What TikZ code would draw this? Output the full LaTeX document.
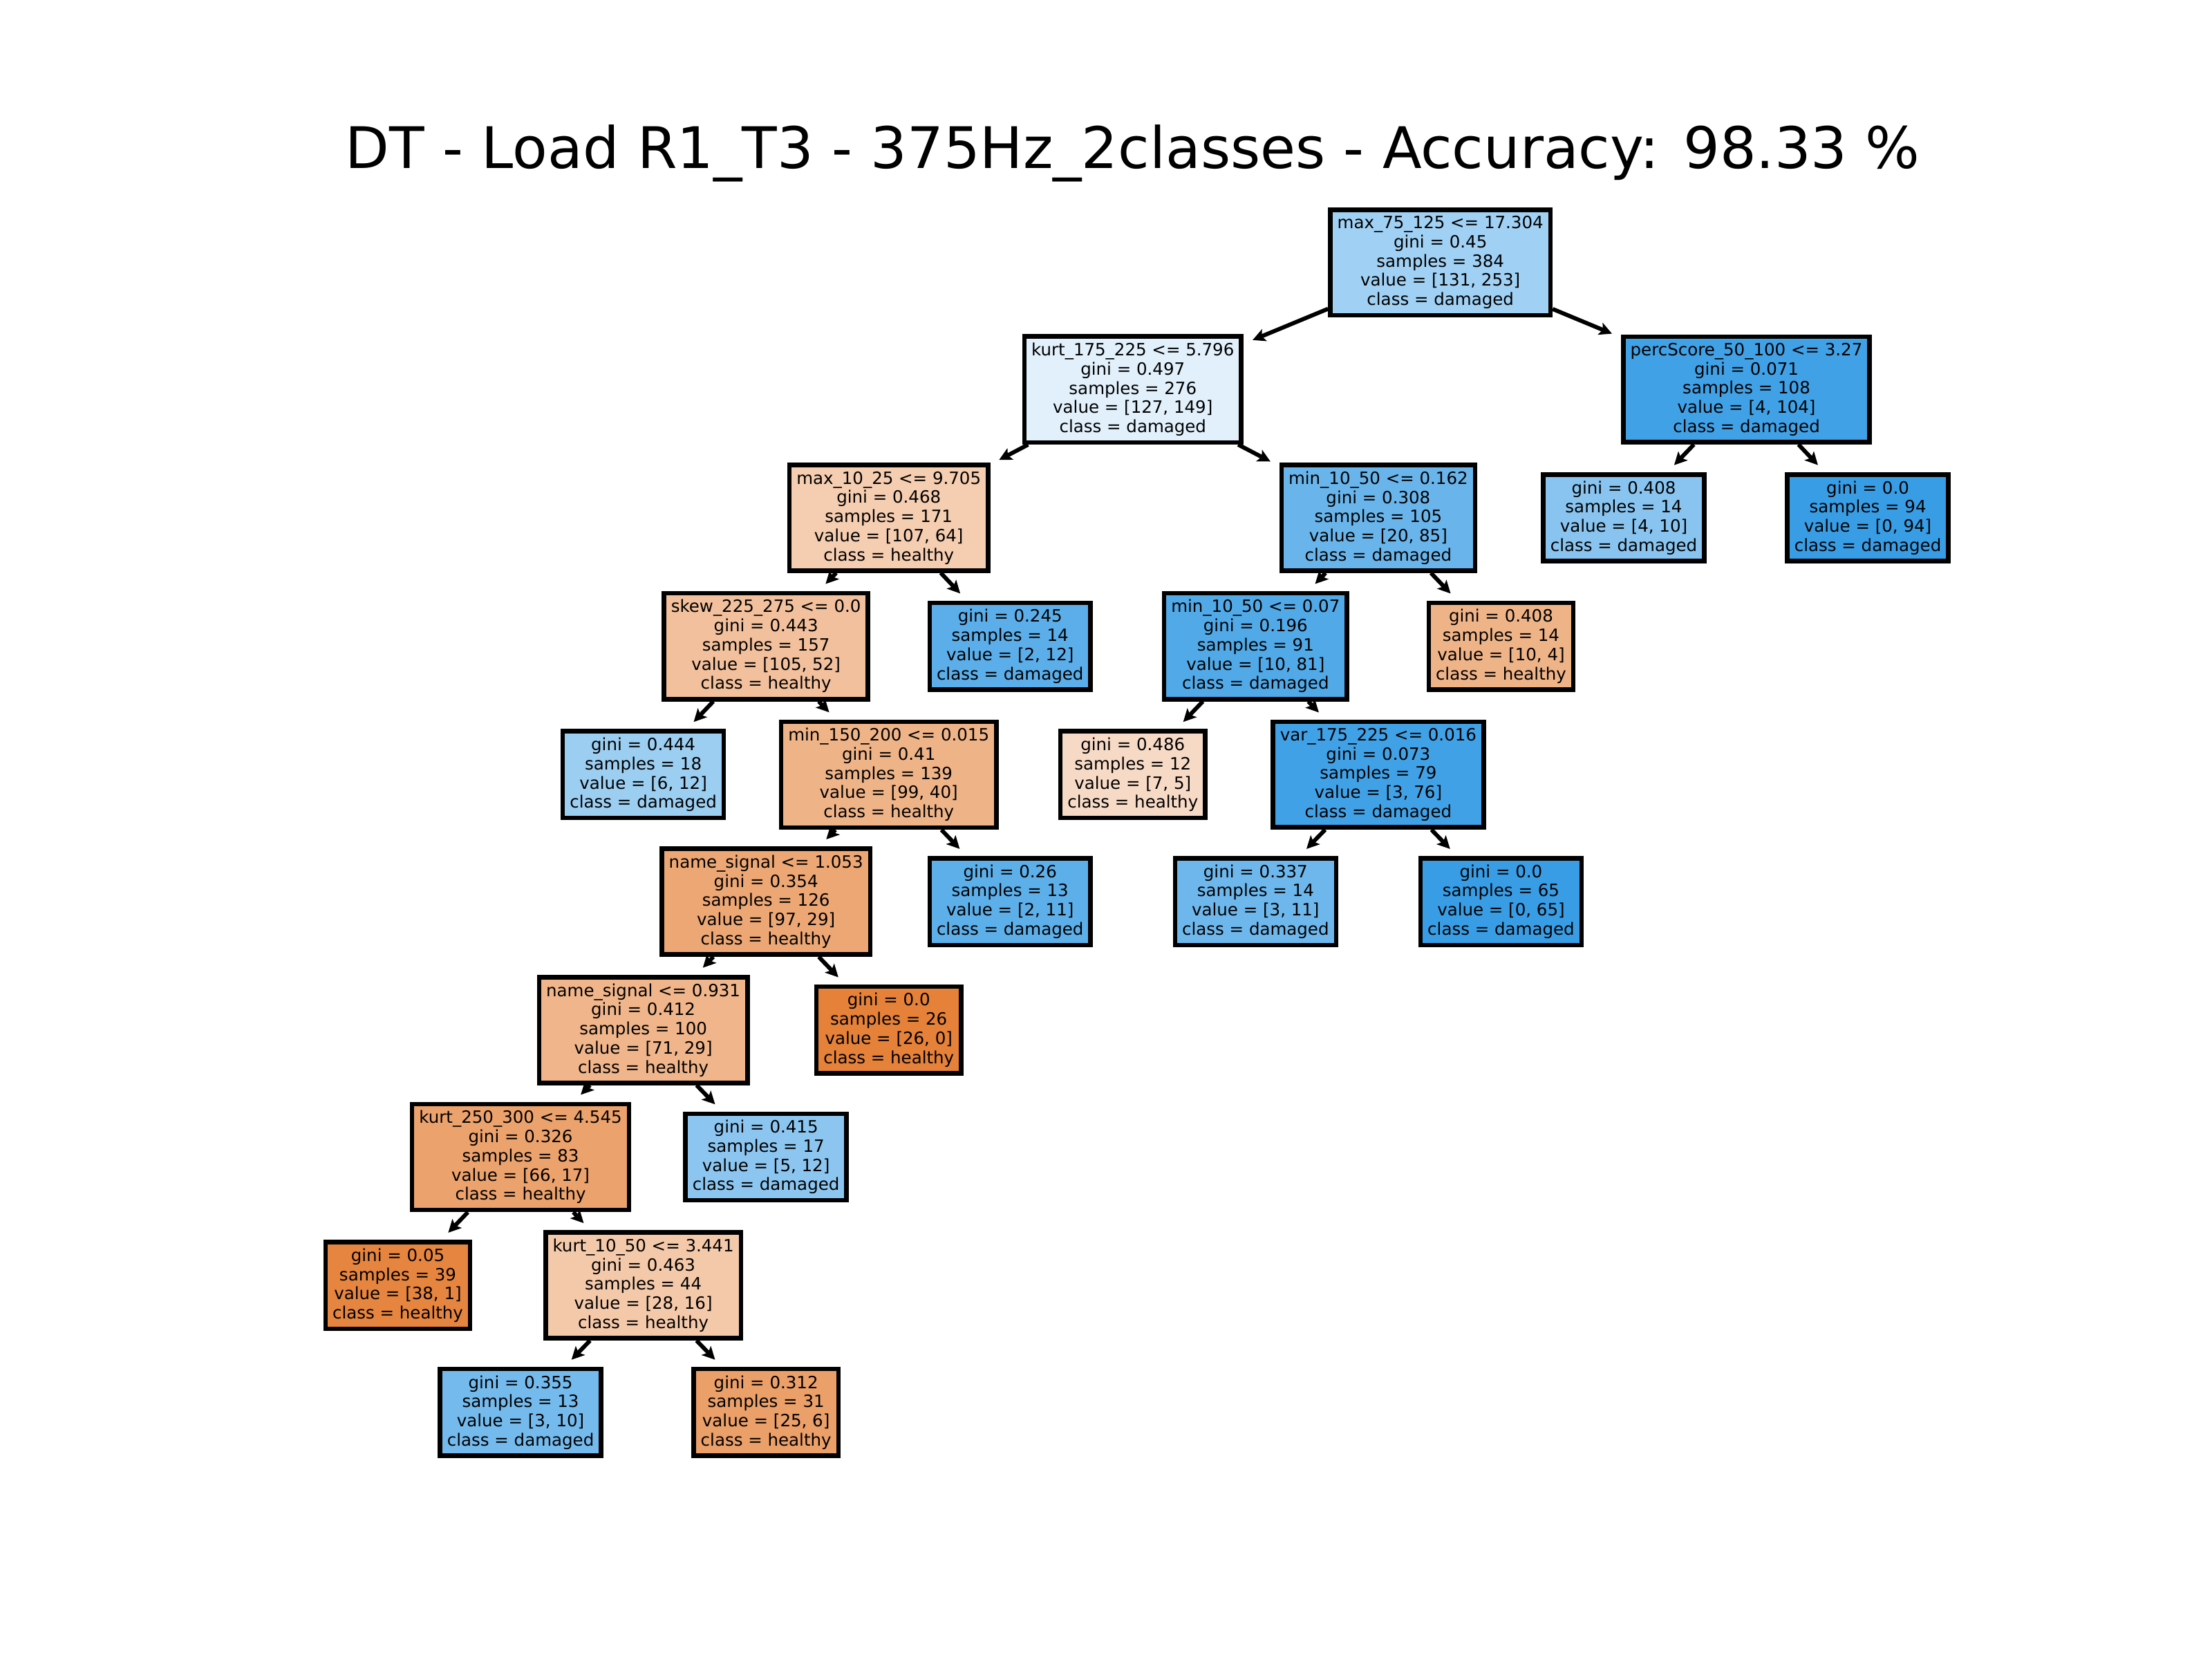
\documentclass[tikz,border=0pt]{standalone}
\usepackage{fontspec}
\setmainfont{DejaVu Sans}
\usepackage{tikz}
\usetikzlibrary{arrows.meta}

\definecolor{hcol}{RGB}{229,129,57}
\definecolor{dcol}{RGB}{57,157,229}

\begin{document}
\begin{tikzpicture}[x = 1pt, y = -1pt,
                        box/.style = {draw, line width = 3.2pt, align = center, inner xsep = 5pt, inner ysep = 4.5pt,
                                      font = \fontsize{12}{13.6}\selectfont},
                        edge/.style = {line width = 2.9pt, -{Stealth[length = 9pt, width = 9pt, inset = 2pt]}, shorten > = 7pt},
                        heading/.style = {font = \fontsize{40.6}{48}\selectfont}]
      \useasboundingbox (0, 0) rectangle (1568, 1176);
      \node [heading] (ttl) at (803, 108.5) {DT - Load R1\_T3 - 375Hz\_2classes - Accuracy: 98.33 \%};

      % level 0 to 2
      \node [box, fill = dcol!48!white] (root) at (1021, 186) {max\_75\_125 <= 17.304\\gini = 0.45\\samples = 384\\value = [131, 253]\\class = damaged};
      \node [box, fill = dcol!15!white] (kurtA) at (803, 276) {kurt\_175\_225 <= 5.796\\gini = 0.497\\samples = 276\\value = [127, 149]\\class = damaged};
      \node [box, fill = dcol!96!white] (perc) at (1238, 276) {percScore\_50\_100 <= 3.27\\gini = 0.071\\samples = 108\\value = [4, 104]\\class = damaged};
      \node [box, fill = hcol!40!white] (maxA) at (630, 367) {max\_10\_25 <= 9.705\\gini = 0.468\\samples = 171\\value = [107, 64]\\class = healthy};
      \node [box, fill = dcol!76!white] (minA) at (977, 367) {min\_10\_50 <= 0.162\\gini = 0.308\\samples = 105\\value = [20, 85]\\class = damaged};
      \node [box, fill = dcol!60!white] (l1) at (1151, 367) {gini = 0.408\\samples = 14\\value = [4, 10]\\class = damaged};
      \node [box, fill = dcol] (l2) at (1324, 367) {gini = 0.0\\samples = 94\\value = [0, 94]\\class = damaged};

      % level 3 to 5
      \node [box, fill = hcol!50!white] (skew) at (543, 458) {skew\_225\_275 <= 0.0\\gini = 0.443\\samples = 157\\value = [105, 52]\\class = healthy};
      \node [box, fill = dcol!83!white] (l3) at (716, 458) {gini = 0.245\\samples = 14\\value = [2, 12]\\class = damaged};
      \node [box, fill = dcol!88!white] (minB) at (890, 458) {min\_10\_50 <= 0.07\\gini = 0.196\\samples = 91\\value = [10, 81]\\class = damaged};
      \node [box, fill = hcol!60!white] (l4) at (1064, 458) {gini = 0.408\\samples = 14\\value = [10, 4]\\class = healthy};
      \node [box, fill = dcol!50!white] (l5) at (456, 549) {gini = 0.444\\samples = 18\\value = [6, 12]\\class = damaged};
      \node [box, fill = hcol!60!white] (minC) at (630, 549) {min\_150\_200 <= 0.015\\gini = 0.41\\samples = 139\\value = [99, 40]\\class = healthy};
      \node [box, fill = hcol!29!white] (l6) at (803, 549) {gini = 0.486\\samples = 12\\value = [7, 5]\\class = healthy};
      \node [box, fill = dcol!96!white] (var) at (977, 549) {var\_175\_225 <= 0.016\\gini = 0.073\\samples = 79\\value = [3, 76]\\class = damaged};
      \node [box, fill = hcol!70!white] (nameA) at (543, 639) {name\_signal <= 1.053\\gini = 0.354\\samples = 126\\value = [97, 29]\\class = healthy};
      \node [box, fill = dcol!82!white] (l7) at (716, 639) {gini = 0.26\\samples = 13\\value = [2, 11]\\class = damaged};
      \node [box, fill = dcol!73!white] (l8) at (890, 639) {gini = 0.337\\samples = 14\\value = [3, 11]\\class = damaged};
      \node [box, fill = dcol] (l9) at (1064, 639) {gini = 0.0\\samples = 65\\value = [0, 65]\\class = damaged};

      % level 6 to 9
      \node [box, fill = hcol!59!white] (nameB) at (456, 730) {name\_signal <= 0.931\\gini = 0.412\\samples = 100\\value = [71, 29]\\class = healthy};
      \node [box, fill = hcol] (l10) at (630, 730) {gini = 0.0\\samples = 26\\value = [26, 0]\\class = healthy};
      \node [box, fill = hcol!74!white] (kurtB) at (369, 820) {kurt\_250\_300 <= 4.545\\gini = 0.326\\samples = 83\\value = [66, 17]\\class = healthy};
      \node [box, fill = dcol!58!white] (l11) at (543, 820) {gini = 0.415\\samples = 17\\value = [5, 12]\\class = damaged};
      \node [box, fill = hcol!97!white] (l12) at (282, 911) {gini = 0.05\\samples = 39\\value = [38, 1]\\class = healthy};
      \node [box, fill = hcol!43!white] (kurtC) at (456, 911) {kurt\_10\_50 <= 3.441\\gini = 0.463\\samples = 44\\value = [28, 16]\\class = healthy};
      \node [box, fill = dcol!70!white] (l13) at (369, 1001) {gini = 0.355\\samples = 13\\value = [3, 10]\\class = damaged};
      \node [box, fill = hcol!76!white] (l14) at (543, 1001) {gini = 0.312\\samples = 31\\value = [25, 6]\\class = healthy};

      \foreach \a/\b in {root/kurtA, root/perc, kurtA/maxA, kurtA/minA, perc/l1, perc/l2,
                         maxA/skew, maxA/l3, minA/minB, minA/l4, skew/l5, skew/minC,
                         minB/l6, minB/var, minC/nameA, minC/l7, var/l8, var/l9,
                         nameA/nameB, nameA/l10, nameB/kurtB, nameB/l11,
                         kurtB/l12, kurtB/kurtC, kurtC/l13, kurtC/l14}
        \draw [edge] (\a) -- (\b);
      \end{tikzpicture}
\end{document}
